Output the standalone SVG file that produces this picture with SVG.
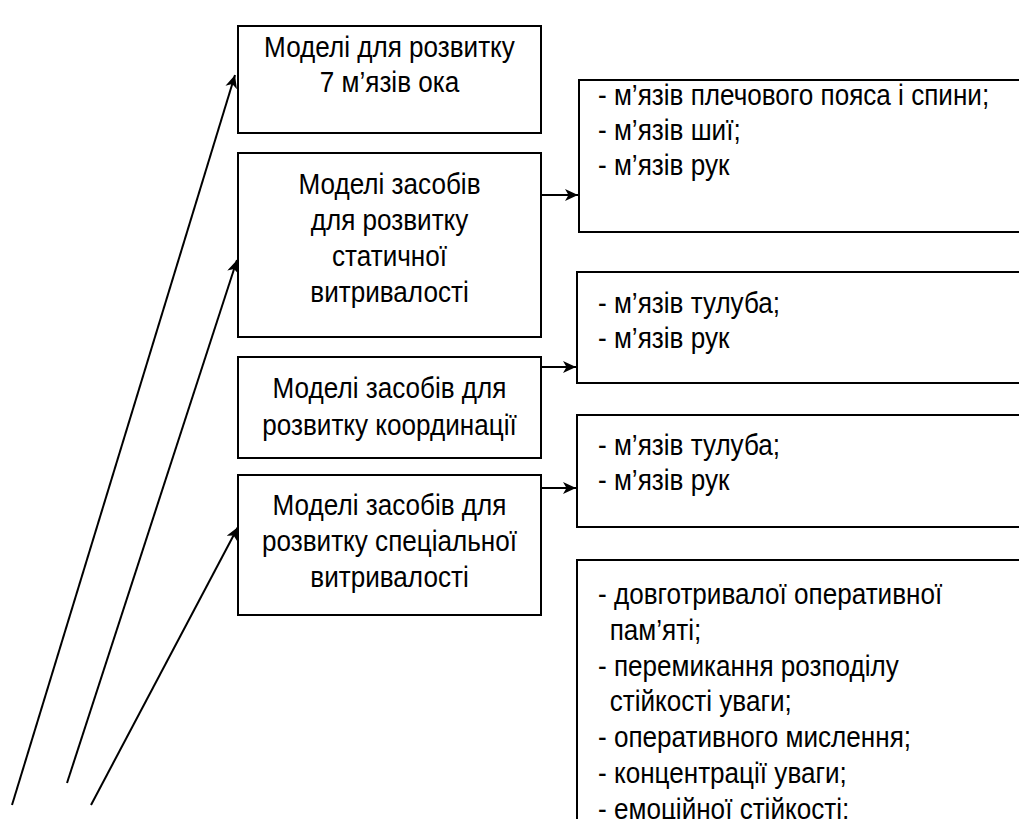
<svg xmlns="http://www.w3.org/2000/svg" width="1019" height="819" viewBox="0 0 1019 819">
<style>
.box{fill:#fff;stroke:#000;stroke-width:2}
.t{font-family:"Liberation Sans",Arial,sans-serif;font-size:29px;fill:#000}
.c{text-anchor:middle}
.ln{fill:none;stroke:#000;stroke-width:2}
</style>
<defs>
<marker id="ah" markerUnits="userSpaceOnUse" markerWidth="16" markerHeight="14" refX="13" refY="6" orient="auto">
<path d="M0,0 L13,6 L0,12 L3.5,6 z" fill="#000"/>
</marker>
</defs>
<rect width="1019" height="819" fill="#fff"/>
<g id="connectors">
<path class="ln" d="M12,805 L235,75" marker-end="url(#ah)"/>
<path class="ln" d="M67,783 L237,260" marker-end="url(#ah)"/>
<path class="ln" d="M91,805 L238,527" marker-end="url(#ah)"/>
<path class="ln" d="M541,195 L578,195" marker-end="url(#ah)"/>
<path class="ln" d="M541,367 L576,367" marker-end="url(#ah)"/>
<path class="ln" d="M541,488 L576,488" marker-end="url(#ah)"/>
</g>
<g id="n1">
<rect class="box" x="238" y="26" width="303" height="107"/>
<g transform="translate(389.5,0) scale(0.9,1)">
<text class="t c" x="0" y="57">Моделі для розвитку</text>
<text class="t c" x="0" y="92">7 м’язів ока</text>
</g>
</g>
<g id="n2">
<rect class="box" x="238" y="153" width="303" height="184"/>
<g transform="translate(389.5,0) scale(0.9,1)">
<text class="t c" x="0" y="194">Моделі засобів</text>
<text class="t c" x="0" y="230">для розвитку</text>
<text class="t c" x="0" y="266">статичної</text>
<text class="t c" x="0" y="302">витривалості</text>
</g>
</g>
<g id="n3">
<rect class="box" x="238" y="357" width="303" height="101"/>
<g transform="translate(389.5,0) scale(0.9,1)">
<text class="t c" x="0" y="398">Моделі засобів для</text>
<text class="t c" x="0" y="435">розвитку координації</text>
</g>
</g>
<g id="n4">
<rect class="box" x="238" y="475" width="303" height="140"/>
<g transform="translate(389.5,0) scale(0.9,1)">
<text class="t c" x="0" y="515">Моделі засобів для</text>
<text class="t c" x="0" y="551">розвитку спеціальної</text>
<text class="t c" x="0" y="587">витривалості</text>
</g>
</g>
<g id="nA">
<rect class="box" x="579" y="80" width="460" height="152"/>
<g transform="translate(598,0) scale(0.9,1)">
<text class="t" x="0" y="105">- м’язів плечового пояса і спини;</text>
<text class="t" x="0" y="140">- м’язів шиї;</text>
<text class="t" x="0" y="175">- м’язів рук</text>
</g>
</g>
<g id="nB">
<rect class="box" x="577" y="272" width="460" height="111"/>
<g transform="translate(598,0) scale(0.9,1)">
<text class="t" x="0" y="313">- м’язів тулуба;</text>
<text class="t" x="0" y="348">- м’язів рук</text>
</g>
</g>
<g id="nC">
<rect class="box" x="577" y="415" width="460" height="112"/>
<g transform="translate(598,0) scale(0.9,1)">
<text class="t" x="0" y="455">- м’язів тулуба;</text>
<text class="t" x="0" y="490">- м’язів рук</text>
</g>
</g>
<g id="nD">
<rect class="box" x="577" y="560" width="460" height="300"/>
<g transform="translate(598,0) scale(0.9,1)">
<text class="t" x="0" y="604">- довготривалої оперативної</text>
<text class="t" x="13" y="640">пам’яті;</text>
<text class="t" x="0" y="676">- перемикання розподілу</text>
<text class="t" x="13" y="711">стійкості уваги;</text>
<text class="t" x="0" y="747">- оперативного мислення;</text>
<text class="t" x="0" y="783">- концентрації уваги;</text>
<text class="t" x="0" y="819">- емоційної стійкості;</text>
</g>
</g>
</svg>
